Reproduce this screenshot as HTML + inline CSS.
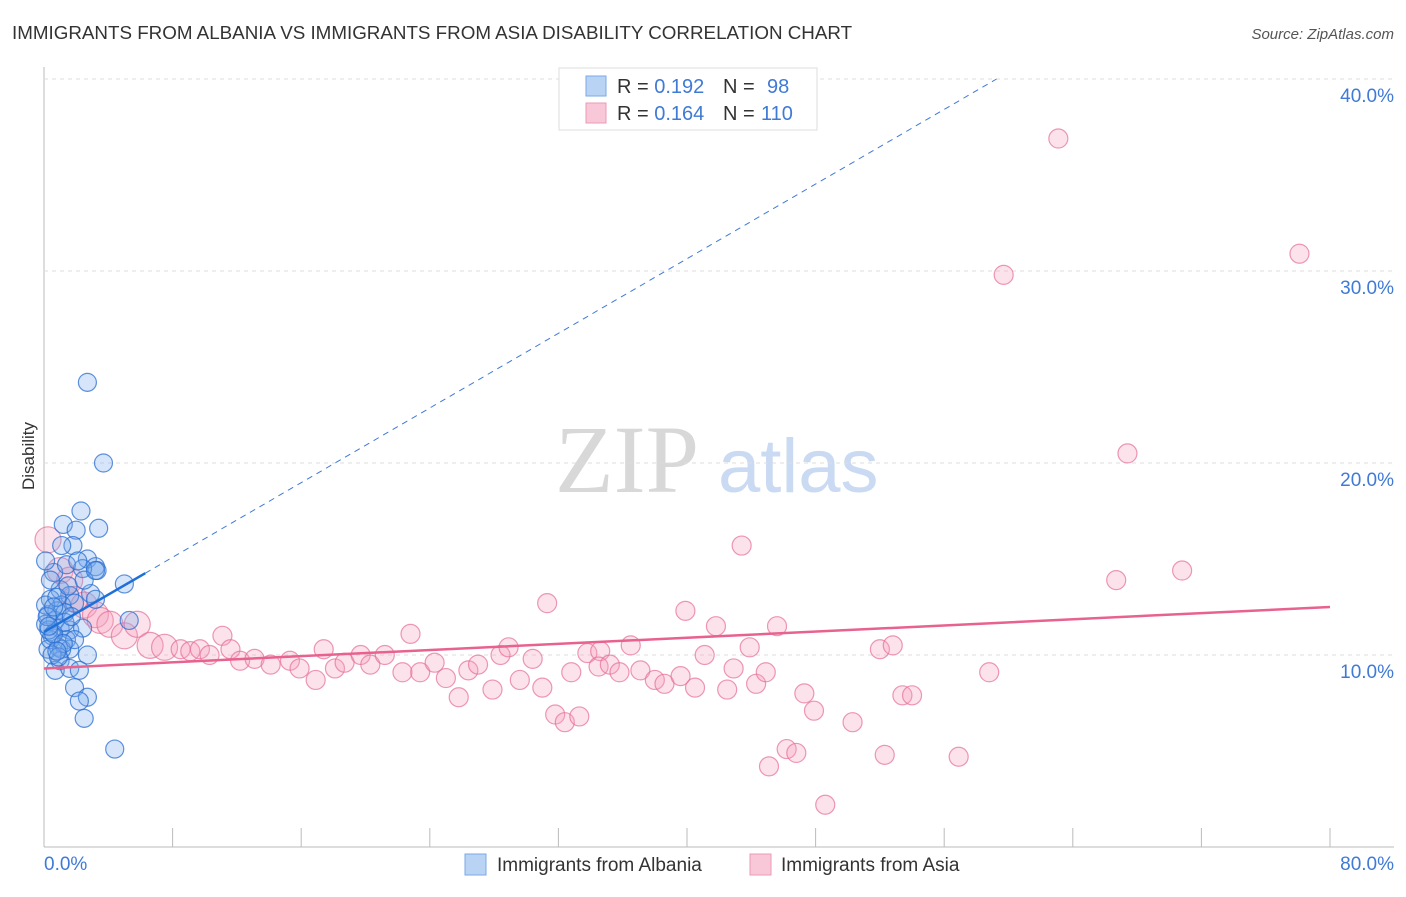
<!DOCTYPE html>
<html><head><meta charset="utf-8"><style>
body{margin:0;background:#fff;font-family:"Liberation Sans",sans-serif;}
svg text{font-family:"Liberation Sans",sans-serif;}
</style></head><body>
<svg id="chart" width="1406" height="892" xmlns="http://www.w3.org/2000/svg">
<text x="12" y="39" font-size="18.8" fill="#333">IMMIGRANTS FROM ALBANIA VS IMMIGRANTS FROM ASIA DISABILITY CORRELATION CHART</text>
<text x="1394" y="39" font-size="15" fill="#555" font-style="italic" text-anchor="end">Source: ZipAtlas.com</text>
<text x="555" y="492" font-size="96" fill="#d8d8d8" style="font-family:'Liberation Serif',serif">ZIP</text>
<text x="718" y="492" font-size="76" fill="#c9daf2">atlas</text>
<text x="34" y="456" font-size="17" fill="#333" transform="rotate(-90 34 456)" text-anchor="middle">Disability</text>
<g id="grid"></g><g id="pts"></g><g id="lines"></g>
<g>
<rect x="559" y="68" width="258" height="62" fill="#fff" stroke="#ddd"/>
<rect x="586" y="76" width="20" height="20" fill="#b9d3f5" stroke="#7aa8e6"/>
<rect x="586" y="103" width="20" height="20" fill="#f9c8d8" stroke="#eb9ab5"/>
<text x="617" y="93" font-size="20" fill="#333">R = <tspan fill="#3f7ad6">0.192</tspan><tspan x="723">N = </tspan><tspan x="767" fill="#3f7ad6">98</tspan></text>
<text x="617" y="120" font-size="20" fill="#333">R = <tspan fill="#3f7ad6">0.164</tspan><tspan x="723">N = </tspan><tspan x="761" fill="#3f7ad6">110</tspan></text>
</g>
<g>
<rect x="465" y="854" width="21" height="21" fill="#b9d3f5" stroke="#7aa8e6"/>
<text x="497" y="871" font-size="19" fill="#333">Immigrants from Albania</text>
<rect x="750" y="854" width="21" height="21" fill="#f9c8d8" stroke="#eb9ab5"/>
<text x="781" y="871" font-size="19" fill="#333">Immigrants from Asia</text>
</g>
</svg>
<script>
const xTicks=[0,8,16,24,32,40,48,56,64,72,80];
const yTicks=[10,20,30,40];
const blueX=[2.7,3.7,2.3,3.4,1.2,2.0,1.8,2.7,3.2,3.3,5.0,5.3,0.6,1.4,2.4,1.0,1.6,2.9,0.4,1.1,1.9,3.2,0.25,0.7,1.0,1.6,2.4,0.1,0.5,1.4,0.25,0.9,1.6,2.7,1.0,0.7,1.6,2.2,1.9,2.7,2.2,2.5,4.4,0.4,0.1,1.1,0.8,1.3,0.4,1.1,1.9,0.1,0.8,1.5,2.5,2.1,0.3,0.6,1.2,0.5,0.9,1.3,0.2,0.6,1.7,3.2,0.3,0.8];
const blueY=[24.2,20.0,17.5,16.6,16.8,16.5,15.7,15.0,14.6,14.4,13.7,11.8,14.3,14.7,14.5,13.4,13.1,13.2,12.9,12.6,12.7,12.9,12.1,11.8,11.4,11.3,11.4,11.6,11.0,10.8,10.3,10.4,10.3,10.0,9.7,9.2,9.3,9.2,8.3,7.8,7.6,6.7,5.1,13.9,14.9,15.7,12.3,12.2,10.8,10.3,10.8,12.6,13.0,13.6,13.9,14.9,11.3,11.1,10.6,10.0,9.9,11.7,12.0,12.5,12.0,14.4,11.5,10.2];
const pinkX=[0.25,1.0,1.6,1.9,2.5,3.2,3.5,4.1,5.0,5.8,6.6,7.5,8.5,9.1,9.7,11.1,10.3,11.6,12.2,13.1,14.1,15.3,15.9,16.9,17.4,18.1,18.7,19.7,20.3,21.2,22.3,22.8,23.4,24.3,25.0,25.8,26.4,27.0,27.9,28.4,28.9,29.6,30.4,31.0,31.3,31.8,32.4,32.8,33.3,33.8,34.6,34.5,35.2,35.8,36.5,37.1,38.0,38.6,39.6,39.9,40.5,41.1,41.8,42.5,42.9,43.4,43.9,44.3,44.9,45.1,45.6,46.2,46.8,47.3,47.9,48.6,50.3,52.0,52.3,52.8,53.4,54.0,56.9,58.8,59.7,63.1,66.7,67.4,70.8,78.1];
const pinkY=[16.0,14.4,13.9,12.9,12.6,12.1,11.8,11.6,11.0,11.6,10.5,10.4,10.3,10.2,10.3,11.0,10.0,10.3,9.7,9.8,9.5,9.7,9.3,8.7,10.3,9.3,9.6,10.0,9.5,10.0,9.1,11.1,9.1,9.6,8.8,7.8,9.2,9.5,8.2,10.0,10.4,8.7,9.8,8.3,12.7,6.9,6.5,9.1,6.8,10.1,10.2,9.4,9.5,9.1,10.5,9.2,8.7,8.5,8.9,12.3,8.3,10.0,11.5,8.2,9.3,15.7,10.4,8.5,9.1,4.2,11.5,5.1,4.9,8.0,7.1,2.2,6.5,10.3,4.8,10.5,7.9,7.9,4.7,9.1,29.8,36.9,13.9,20.5,14.4,30.9];
const blueFit=[11.2,0.486];
const pinkFit=[9.3,0.04];
const X=v=>44+v*16.075, Y=v=>847-v*19.2;
const NS='http://www.w3.org/2000/svg';
function mk(p,t,a){const e=document.createElementNS(NS,t);for(const k in a)e.setAttribute(k,a[k]);p.appendChild(e);return e;}
const g=document.getElementById('grid');
const ax=mk(g,'line',{x1:44,y1:67,x2:44,y2:847,stroke:'#bbb'});


const bx=mk(g,'line',{x1:44,y1:847,x2:1394,y2:847,stroke:'#bbb'});


yTicks.forEach(v=>{
 const l=mk(g,'line',{x1:44,y1:Y(v),x2:1394,y2:Y(v),stroke:'#ddd','stroke-dasharray':'4,4'});
 
 
 const t=mk(g,'text',{x:1394,y:Y(v)+23,'font-size':19,fill:'#3f7ad6','text-anchor':'end'});t.textContent=v.toFixed(1)+'%';
 
 
});
xTicks.forEach(v=>{
 const l=mk(g,'line',{x1:X(v),y1:828,x2:X(v),y2:847,stroke:'#bbb'});
 
 
});
[[0,'start',44],[80,'end',1394]].forEach(([v,a,x])=>{const t=mk(g,'text',{x:x,y:870,'font-size':19,fill:'#3f7ad6','text-anchor':a});t.textContent=v.toFixed(1)+'%';
 
 });
const P=document.getElementById('pts');
pinkX.forEach((x,i)=>{const r=(i<12)?13:9.5;const c=mk(P,'circle',{cx:X(x),cy:Y(pinkY[i]),r:r,fill:'rgba(245,160,190,0.3)',stroke:'rgba(230,110,150,0.7)','stroke-width':1.2});
 
 });
blueX.forEach((x,i)=>{const c=mk(P,'circle',{cx:X(x),cy:Y(blueY[i]),r:9,fill:'rgba(120,170,235,0.3)',stroke:'rgba(40,110,210,0.75)','stroke-width':1.2});
 
 });
const L=document.getElementById('lines');
const bf=x=>blueFit[0]+blueFit[1]*x, pf=x=>pinkFit[0]+pinkFit[1]*x;
const xEnd=(40-blueFit[0])/blueFit[1];
const d=mk(L,'line',{x1:X(6.3),y1:Y(bf(6.3)),x2:X(xEnd),y2:Y(40),stroke:'#3f7ad6','stroke-width':1,'stroke-dasharray':'6,5'});


const s=mk(L,'line',{x1:X(0),y1:Y(bf(0)),x2:X(6.3),y2:Y(bf(6.3)),stroke:'#1f6fd8','stroke-width':2.5});


const p=mk(L,'line',{x1:X(0),y1:Y(pf(0)),x2:X(80),y2:Y(pf(80)),stroke:'#e8628e','stroke-width':2.5});


</script>
</body></html>
